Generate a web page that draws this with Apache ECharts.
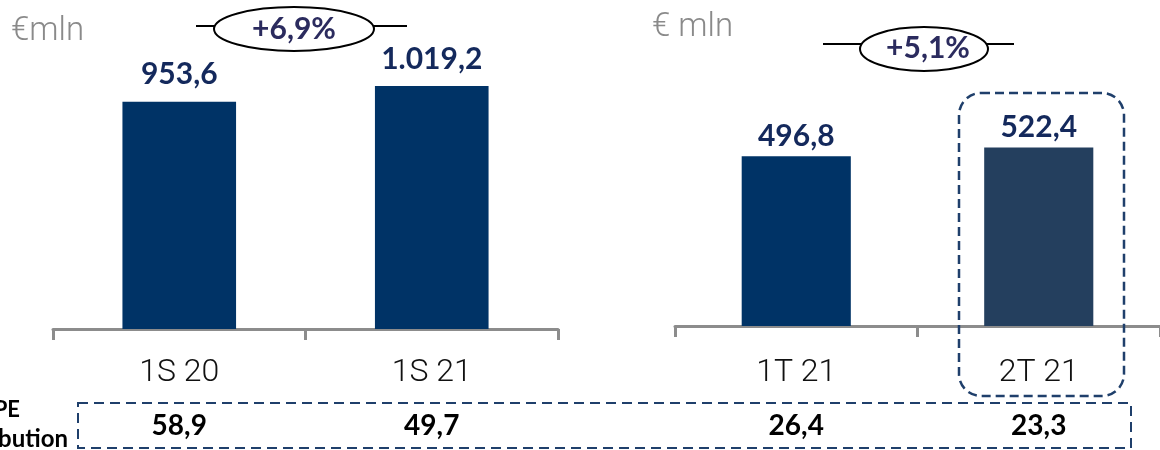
<!DOCTYPE html>
<html>
<head>
<meta charset="utf-8">
<script src="https://cdn.jsdelivr.net/npm/echarts@6/dist/echarts.min.js"></script>
<style>
  html, body { margin: 0; padding: 0; background: #fff; }
  #chart { width: 1160px; height: 450px; }
</style>
</head>
<body>
<div id="chart"></div>
<script>
// semesters (left) and quarters (right)
const halfCats = ['1S 20', '1S 21'];
const halfValues = [953.6, 1019.2];
const halfContrib = ['58,9', '49,7'];

const quarterCats = ['1T 21', '2T 21'];
const quarterValues = [496.8, 522.4];
const quarterContrib = ['26,4', '23,3'];

const growthLabels = ['+6,9%', '+5,1%'];
const unitLabels = ['€mln', '€ mln'];
const rowLabel = ['PE', 'contribution'];

const NAVY = '#003366';
const LABEL_NAVY = '#14295c';
const AXIS_GREY = '#8c8c8c';
const THIN = 'Roboto, sans-serif';
const BOLD = 'Lato, sans-serif';

// 1.019,2 style
function fmt(v) {
  const parts = v.toFixed(1).split('.');
  return parts[0].replace(/\B(?=(\d{3})+(?!\d))/g, '.') + ',' + parts[1];
}

function catAxis(gridIndex, cats, contrib) {
  return {
    type: 'category',
    gridIndex: gridIndex,
    data: cats,
    axisLine: { show: true, lineStyle: { color: AXIS_GREY, width: 3 } },
    axisTick: { show: true, length: 11, lineStyle: { color: AXIS_GREY, width: 3 } },
    axisLabel: {
      interval: 0,
      margin: gridIndex === 0 ? 19 : 22,
      formatter: function (value, index) {
        return '{cat|' + value + '}\n{val|' + contrib[index] + '}';
      },
      rich: {
        cat: { fontFamily: THIN, fontWeight: 300, fontSize: 32, color: '#111', lineHeight: 50 },
        val: { fontFamily: BOLD, fontWeight: 'bold', fontSize: 28, color: '#000', lineHeight: 56 },
      },
    },
  };
}

function valAxis(gridIndex, max) {
  return {
    type: 'value',
    gridIndex: gridIndex,
    min: 0,
    max: max,
    show: false,
    splitLine: { show: false },
  };
}

function barLabel(distance) {
  return {
    show: true,
    position: 'top',
    distance: distance,
    fontFamily: BOLD,
    fontWeight: 'bold',
    fontSize: 30,
    color: LABEL_NAVY,
    formatter: function (p) {
      return fmt(p.value);
    },
  };
}

const quarterColors = [NAVY, '#243f5e'];

const option = {
  animation: false,
  backgroundColor: '#fff',
  grid: [
    { left: 53, width: 505, top: 43, bottom: 121 },
    { left: 675, width: 490, top: 52.6, bottom: 124 },
  ],
  xAxis: [catAxis(0, halfCats, halfContrib), catAxis(1, quarterCats, quarterContrib)],
  yAxis: [valAxis(0, 1200), valAxis(1, 800)],
  series: [
    {
      type: 'bar',
      xAxisIndex: 0,
      yAxisIndex: 0,
      barWidth: '45%',
      itemStyle: { color: NAVY },
      label: barLabel(12),
      data: halfValues,
    },
    {
      type: 'bar',
      xAxisIndex: 1,
      yAxisIndex: 1,
      barWidth: '45%',
      label: barLabel(5),
      data: quarterValues.map(function (v, i) {
        return { value: v, itemStyle: { color: quarterColors[i] } };
      }),
    },
  ],
  graphic: [
    // unit captions
    { type: 'text', left: 11, top: 15, z: 100,
      style: { text: unitLabels[0], fontFamily: THIN, fontWeight: 300, fontSize: 33, fill: '#8a8a8a' } },
    { type: 'text', left: 652, top: 11, z: 100,
      style: { text: unitLabels[1], fontFamily: THIN, fontWeight: 300, fontSize: 33, fill: '#8a8a8a' } },

    // growth bubbles
    { type: 'line', z: 100, shape: { x1: 196, y1: 26, x2: 407, y2: 26 }, style: { stroke: '#000', lineWidth: 2 } },
    { type: 'ellipse', z: 101, shape: { cx: 294, cy: 29, rx: 80, ry: 22 }, style: { fill: '#fff', stroke: '#000', lineWidth: 2 } },
    { type: 'text', z: 102, x: 294, y: 29,
      style: { text: growthLabels[0], align: 'center', verticalAlign: 'middle', fontFamily: BOLD, fontWeight: 'bold', fontSize: 30, fill: '#2b2b5e' } },

    { type: 'line', z: 100, shape: { x1: 823, y1: 44, x2: 1014, y2: 44 }, style: { stroke: '#000', lineWidth: 2 } },
    { type: 'ellipse', z: 101, shape: { cx: 924, cy: 49, rx: 64, ry: 22 }, style: { fill: '#fff', stroke: '#000', lineWidth: 2 } },
    { type: 'text', z: 102, x: 928, y: 48,
      style: { text: growthLabels[1], align: 'center', verticalAlign: 'middle', fontFamily: BOLD, fontWeight: 'bold', fontSize: 30, fill: '#2b2b5e' } },

    // highlight around the latest quarter
    { type: 'rect', z: 100, shape: { x: 959, y: 93, width: 165, height: 303, r: 22 },
      style: { fill: 'none', stroke: '#1f3f6b', lineWidth: 2.5, lineDash: [9, 5] } },

    // contribution row box
    { type: 'rect', z: 100, shape: { x: 78, y: 403, width: 1053, height: 45 },
      style: { fill: 'none', stroke: '#1f3f6b', lineWidth: 2, lineDash: [10, 6] } },
    { type: 'text', z: 100, x: 20, y: 410,
      style: { text: rowLabel[0], align: 'right', verticalAlign: 'middle', fontFamily: BOLD, fontWeight: 'bold', fontSize: 22, fill: '#000' } },
    { type: 'text', z: 100, x: 68, y: 439,
      style: { text: rowLabel[1], align: 'right', verticalAlign: 'middle', fontFamily: BOLD, fontWeight: 'bold', fontSize: 24, fill: '#000' } },
  ],
};

const chart = echarts.init(document.getElementById('chart'), null, { renderer: 'canvas' });
chart.setOption(option);
</script>
</body>
</html>
